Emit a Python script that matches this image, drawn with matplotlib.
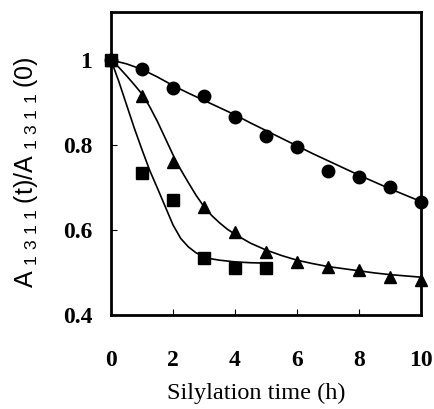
import matplotlib
matplotlib.use("Agg")
import matplotlib.pyplot as plt

# ---- data ----
t_circle = [0, 1, 2, 3, 4, 5, 6, 7, 8, 9, 10]
y_circle = [1.0, 0.980, 0.933, 0.916, 0.867, 0.821, 0.796, 0.739, 0.724, 0.702, 0.667]

t_tri = [0, 1, 2, 3, 4, 5, 6, 7, 8, 9, 10]
y_tri = [1.0, 0.915, 0.761, 0.655, 0.595, 0.549, 0.525, 0.514, 0.506, 0.490, 0.482]

t_sq = [0, 1, 2, 3, 4, 5]
y_sq = [1.0, 0.733, 0.671, 0.533, 0.510, 0.510]

# fitted curves
fit_circle_t = [0, 0.5, 1, 1.5, 2, 2.5, 3, 3.5, 4, 4.5, 5, 5.5, 6, 6.5, 7, 7.5, 8, 8.5, 9, 9.5, 10]
fit_circle_y = [1.0, 0.991, 0.978, 0.960, 0.940, 0.922, 0.905, 0.888, 0.871, 0.852, 0.834,
                0.816, 0.798, 0.780, 0.763, 0.746, 0.729, 0.713, 0.697, 0.682, 0.667]

fit_tri_t = [0, 0.25, 0.5, 0.75, 1, 1.25, 1.5, 1.75, 2, 2.25, 2.5, 2.75, 3, 3.25, 3.5, 3.75,
             4, 4.5, 5, 5.5, 6, 6.5, 7, 7.5, 8, 8.5, 9, 9.5, 10]
fit_tri_y = [1.0, 0.983, 0.963, 0.942, 0.920, 0.890, 0.855, 0.816, 0.777, 0.742, 0.711, 0.681,
             0.655, 0.634, 0.617, 0.602, 0.590, 0.569, 0.553, 0.540, 0.529, 0.521, 0.514,
             0.509, 0.504, 0.499, 0.495, 0.492, 0.489]

fit_sq_t = [0, 0.25, 0.5, 0.75, 1, 1.25, 1.5, 1.75, 2, 2.25, 2.5, 2.75, 3, 3.25, 3.5, 4, 4.5, 5]
fit_sq_y = [1.0, 0.950, 0.895, 0.840, 0.789, 0.740, 0.698, 0.655, 0.612, 0.580, 0.560, 0.546,
            0.538, 0.532, 0.529, 0.525, 0.523, 0.522]

x_ticks = [0, 2, 4, 6, 8, 10]
x_tick_labels = ["0", "2", "4", "6", "8", "10"]
y_ticks = [0.4, 0.6, 0.8, 1.0]
y_tick_labels = ["0.4", "0.6", "0.8", "1"]

# ---- figure ----
W, H = 434, 409
fig = plt.figure(figsize=(W / 100, H / 100), dpi=100)
ax = fig.add_axes([111 / W, 1 - 315 / H, (421 - 111) / W, (315 - 12) / H])

lw_fit = 1.2
ax.plot(fit_circle_t, fit_circle_y, color="black", lw=lw_fit, zorder=2)
ax.plot(fit_tri_t, fit_tri_y, color="black", lw=lw_fit, zorder=2)
ax.plot(fit_sq_t, fit_sq_y, color="black", lw=lw_fit, zorder=2)

ax.plot(t_circle, y_circle, "o", color="black", ms=9, clip_on=False, zorder=3)
ax.plot(t_tri, y_tri, "^", color="black", ms=9, clip_on=False, zorder=3)
ax.plot(t_sq, y_sq, "s", color="black", ms=8.5, clip_on=False, zorder=3)

ax.set_xlim(0, 10)
ax.set_ylim(0.4, 1.113)

for s in ax.spines.values():
    s.set_linewidth(2.0)

ax.set_xticks(x_ticks)
ax.set_xticklabels(x_tick_labels, fontfamily="Liberation Serif", fontweight="bold", fontsize=17)
ax.set_yticks(y_ticks)
ax.set_yticklabels(y_tick_labels, fontfamily="Liberation Serif", fontweight="bold", fontsize=17)
ax.tick_params(axis="x", direction="in", length=4, width=0.8, pad=25)
ax.tick_params(axis="y", direction="in", length=4, width=0.8, pad=13.5)

ax.set_xlabel("Silylation time (h)", fontfamily="Liberation Serif", fontsize=17.5,
              labelpad=9, x=0.47)
fig.text(26 / W, 1 - 172 / H,
         r"A$_{\mathregular{\ 1\ 3\ 1\ 1\ }}$(t)/A$_{\mathregular{\ 1\ 3\ 1\ 1\ }}$(0)",
         rotation=90, ha="center", va="center", fontfamily="Liberation Sans", fontsize=18)

fig.savefig("out.png", dpi=100)
